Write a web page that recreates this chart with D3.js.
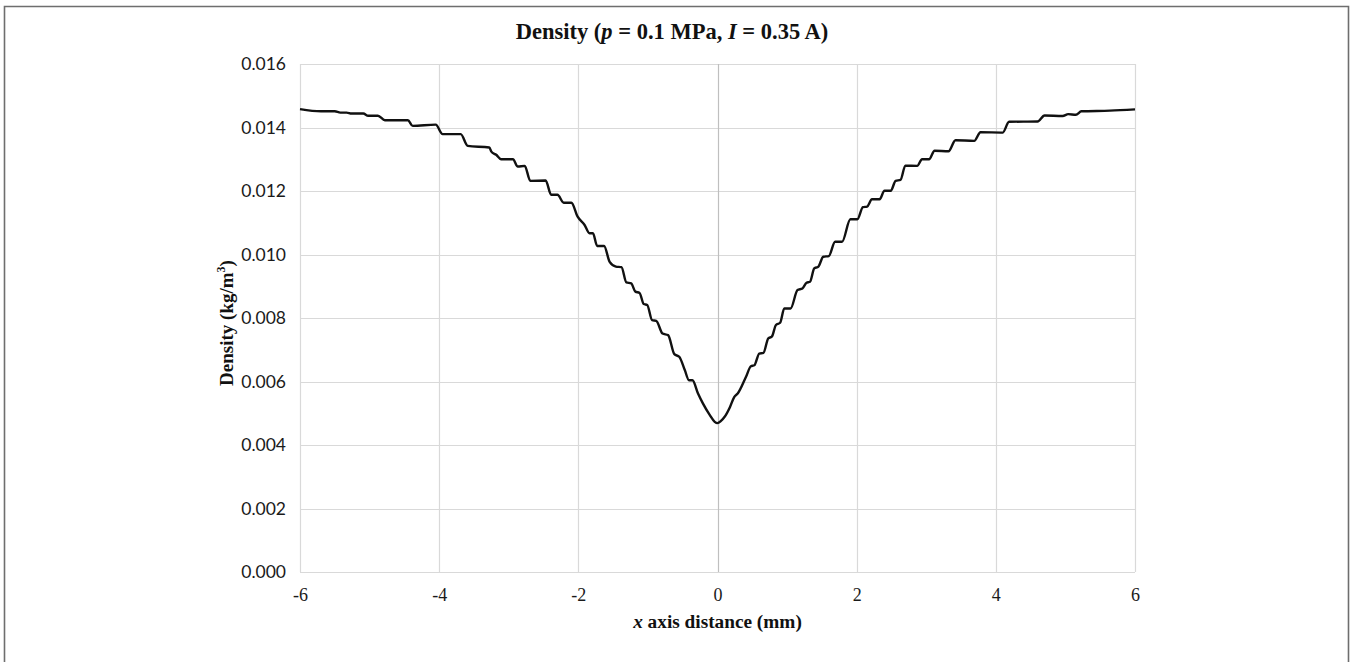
<!DOCTYPE html>
<html>
<head>
<meta charset="utf-8">
<script src="https://cdn.jsdelivr.net/npm/d3@7"></script>
<style>
  body { margin: 0; background: #fff; }
  svg { display: block; }
</style>
</head>
<body>
<script>
var width = 1352;
var height = 662;

// x position (mm) and density (kg/m3)
var xValues = [
  -6.00, -5.70, -5.50, -5.42, -5.33, -5.26, -5.09, -5.02, -4.88, -4.78,
  -4.45, -4.38, -4.05, -3.95, -3.69, -3.59, -3.28, -3.25, -3.18, -3.11,
  -2.94, -2.87, -2.77, -2.69, -2.47, -2.39, -2.30, -2.21, -2.10, -2.01,
  -1.91, -1.84, -1.79, -1.73, -1.63, -1.55, -1.46, -1.38, -1.31, -1.24,
  -1.18, -1.12, -1.06, -1.01, -0.94, -0.88, -0.79, -0.71, -0.62, -0.55,
  -0.47, -0.41, -0.36, -0.28, -0.21, -0.11, -0.04, 0.00, 0.05, 0.10,
  0.18, 0.24, 0.29, 0.41, 0.48, 0.53, 0.60, 0.66, 0.73, 0.78,
  0.84, 0.90, 0.96, 1.05, 1.15, 1.22, 1.28, 1.33, 1.39, 1.45,
  1.52, 1.60, 1.69, 1.79, 1.91, 2.01, 2.09, 2.15, 2.22, 2.33,
  2.40, 2.49, 2.56, 2.63, 2.70, 2.87, 2.94, 3.04, 3.12, 3.32,
  3.42, 3.69, 3.78, 4.10, 4.19, 4.60, 4.70, 4.96, 5.04, 5.15,
  5.23, 5.64, 6.00
];
var densityValues = [
  0.01458, 0.01451, 0.01451, 0.01447, 0.01447, 0.01444, 0.01444, 0.01437, 0.01437, 0.01423,
  0.01423, 0.01405, 0.01409, 0.01379, 0.01379, 0.01342, 0.01337, 0.01324, 0.01314, 0.01300,
  0.01300, 0.01277, 0.01279, 0.01232, 0.01233, 0.01188, 0.01188, 0.01163, 0.01163, 0.01119,
  0.01093, 0.01067, 0.01067, 0.01027, 0.01027, 0.00977, 0.00962, 0.00960, 0.00912, 0.00909,
  0.00883, 0.00879, 0.00844, 0.00841, 0.00793, 0.00791, 0.00751, 0.00746, 0.00686, 0.00678,
  0.00636, 0.00604, 0.00604, 0.00562, 0.00531, 0.00494, 0.00473, 0.00469, 0.00476, 0.00488,
  0.00520, 0.00551, 0.00562, 0.00615, 0.00648, 0.00651, 0.00688, 0.00690, 0.00736, 0.00741,
  0.00778, 0.00785, 0.00830, 0.00830, 0.00888, 0.00893, 0.00911, 0.00914, 0.00956, 0.00962,
  0.00993, 0.00995, 0.01040, 0.01040, 0.01111, 0.01111, 0.01149, 0.01151, 0.01174, 0.01174,
  0.01201, 0.01201, 0.01232, 0.01235, 0.01280, 0.01279, 0.01300, 0.01300, 0.01327, 0.01325,
  0.01360, 0.01358, 0.01385, 0.01384, 0.01418, 0.01419, 0.01438, 0.01436, 0.01442, 0.01440,
  0.01451, 0.01453, 0.01457
];

var xTicks = [-6, -4, -2, 0, 2, 4, 6];
var yTicks = [0, 0.002, 0.004, 0.006, 0.008, 0.010, 0.012, 0.014, 0.016];

var margin = {left: 300, right: 217, top: 64, bottom: 90};

var x = d3.scaleLinear().domain([-6, 6]).range([margin.left, width - margin.right]);
var y = d3.scaleLinear().domain([0, 0.016]).range([height - margin.bottom, margin.top]);

var serif = "'Liberation Serif', 'Times New Roman', serif";

var svg = d3.select("body").append("svg").attr("width", width).attr("height", height);

// outer frame
svg.append("path")
    .attr("d", "M4.5," + (height + 5) + "V6.5H1348.5V" + (height + 5))
    .attr("fill", "none")
    .attr("stroke", "#6e6e6e")
    .attr("stroke-width", 1.6);

// gridlines
svg.append("g").attr("class", "grid-y")
    .selectAll("line")
    .data(yTicks)
    .enter().append("line")
        .attr("x1", x(-6)).attr("x2", x(6))
        .attr("y1", function(d){ return Math.round(y(d)) + 0.5; })
        .attr("y2", function(d){ return Math.round(y(d)) + 0.5; })
        .attr("stroke", "#d9d9d9").attr("stroke-width", 1.2);

svg.append("g").attr("class", "grid-x")
    .selectAll("line")
    .data(xTicks)
    .enter().append("line")
        .attr("x1", function(d){ return Math.round(x(d)) + 0.5; })
        .attr("x2", function(d){ return Math.round(x(d)) + 0.5; })
        .attr("y1", y(0.016)).attr("y2", y(0))
        .attr("stroke", function(d){ return d === 0 ? "#bfbfbf" : "#d9d9d9"; })
        .attr("stroke-width", 1.2);

// axes (labels only, lines drawn above as grid)
var yAxis = d3.axisLeft(y).tickValues(yTicks).tickSize(0).tickPadding(14)
    .tickFormat(d3.format(".3f"));
var gy = svg.append("g").attr("transform", "translate(" + x(-6) + ",0)").call(yAxis);
gy.select(".domain").remove();
gy.attr("font-family", "Lato, 'Open Sans', sans-serif").attr("font-size", 17.5);
gy.selectAll("text").attr("fill", "#1a1a1a");

var xAxis = d3.axisBottom(x).tickValues(xTicks).tickSize(0).tickPadding(16)
    .tickFormat(function(d){ return String(d); });
var gx = svg.append("g").attr("transform", "translate(0," + y(0) + ")").call(xAxis);
gx.select(".domain").remove();
gx.attr("font-family", serif).attr("font-size", 18);
gx.selectAll("text").attr("fill", "#1a1a1a");

// the curve
var pts = xValues.map(function(d, i){ return [d, densityValues[i]]; });
var line = d3.line()
    .x(function(d){ return x(d[0]); })
    .y(function(d){ return y(d[1]); })
    .curve(d3.curveMonotoneX);

svg.append("path")
    .datum(pts)
    .attr("d", line)
    .attr("fill", "none")
    .attr("stroke", "#111")
    .attr("stroke-width", 2.4)
    .attr("stroke-linejoin", "round");

// titles
var title = svg.append("text")
    .attr("x", 672).attr("y", 39)
    .attr("text-anchor", "middle")
    .attr("font-family", serif).attr("font-weight", "bold").attr("font-size", "22.5px")
    .attr("fill", "#111");
title.append("tspan").text("Density (");
title.append("tspan").attr("font-style", "italic").text("p");
title.append("tspan").text(" = 0.1 MPa, ");
title.append("tspan").attr("font-style", "italic").text("I");
title.append("tspan").text(" = 0.35 A)");

var xl = svg.append("text")
    .attr("x", (x(-6) + x(6)) / 2).attr("y", 628)
    .attr("text-anchor", "middle")
    .attr("font-family", serif).attr("font-weight", "bold").attr("font-size", "19.3px")
    .attr("fill", "#111");
xl.append("tspan").attr("font-style", "italic").text("x");
xl.append("tspan").text(" axis distance (mm)");

var yl = svg.append("text")
    .attr("transform", "translate(233," + 323 + ") rotate(-90)")
    .attr("text-anchor", "middle")
    .attr("font-family", serif).attr("font-weight", "bold").attr("font-size", "19px")
    .attr("fill", "#111");
yl.append("tspan").text("Density (kg/m");
yl.append("tspan").attr("font-size", "12px").attr("dy", "-8").text("3");
yl.append("tspan").attr("dy", "8").text(")");
</script>
</body>
</html>
